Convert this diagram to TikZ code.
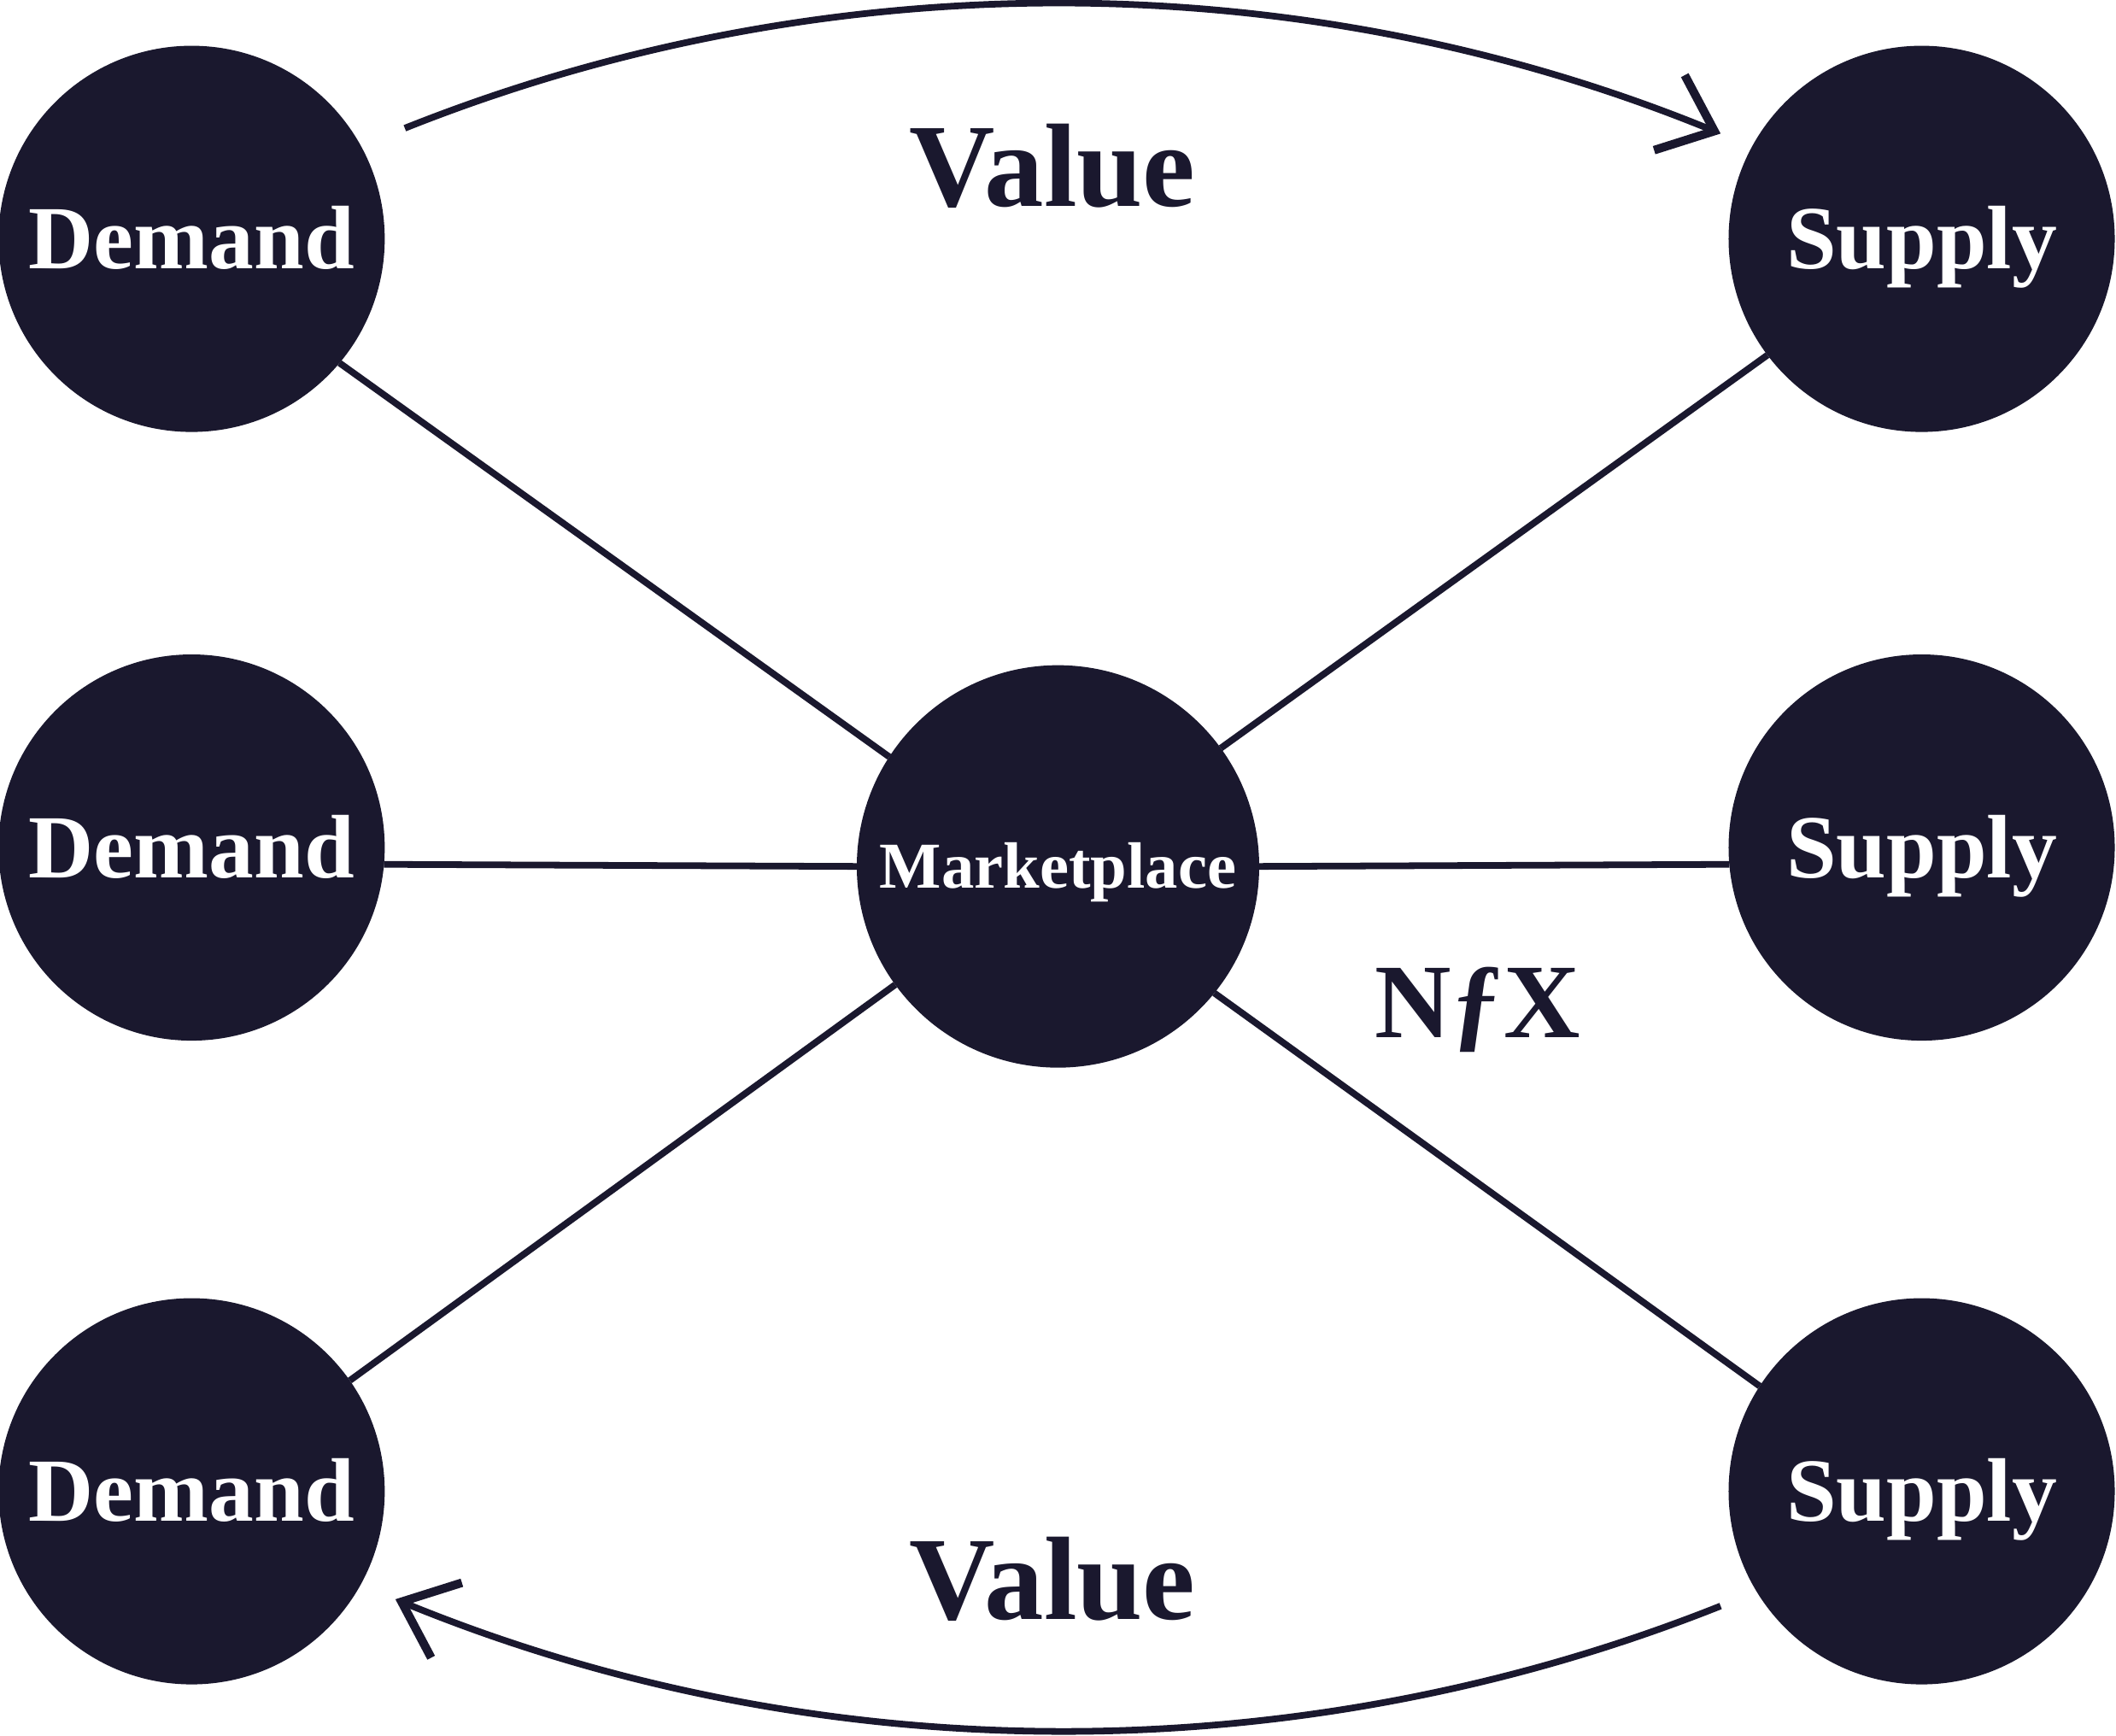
\documentclass[tikz,border=0pt]{standalone}
\usepackage{fontspec}
\setmainfont{Liberation Serif}
\usetikzlibrary{arrows.meta}
\definecolor{ink}{HTML}{1A182E}

\def\ux{0.01cm}
\def\uy{-0.01cm}

\begin{document}
\begin{tikzpicture}[x=\ux,y=\uy, line width=1.4pt,
    party/.style={circle, fill=ink, minimum size=2.86cm, inner sep=0pt, outer sep=0pt,
      text=white, font=\fontsize{19}{23}\selectfont\bfseries, text height=12.6pt, text depth=0pt},
    hub/.style={party, minimum size=2.98cm,
      font=\fontsize{13.8}{16}\selectfont\bfseries, text height=9.1pt},
    link/.style={draw=ink},
    flow/.style={draw=ink, -{Straight Barb[length=0.36cm,width=0.6cm,line width=1.8pt]},
      bend left=22, looseness=0.88},
    tag/.style={text=ink, anchor=base, inner sep=0pt}]
		\useasboundingbox (0,0) rectangle (1568,1286);

		\foreach \i/\y in {1/177,2/628,3/1105}{
			\node[party] (dem\i) at (142,\y) {Demand};
			\node[party] (sup\i) at (1424,\y) {Supply};
		}
		\node[hub] (mkt) at (784,642) {Marketplace};

		\draw[link] (dem1.-40.6) -- (mkt.147.9);
		\draw[link] (dem2.-5.6) -- (mkt.180);
		\draw[link] (dem3.35.6) -- (mkt.216.5);
		\draw[link] (sup1.217.4) -- (mkt.36.3);
		\draw[link] (sup2.185.6) -- (mkt.0);
		\draw[link] (sup3.147.1) -- (mkt.-39.8);

		% value flows
		\coordinate (vtopL) at (300,95);
		\coordinate (vtopR) at (1275,99);
		\coordinate (vbotR) at (1275,1190);
		\coordinate (vbotL) at (293,1185);
		\draw[flow] (vtopL) to (vtopR);
		\draw[flow] (vbotR) to (vbotL);

		\node[tag, font=\fontsize{25}{30}\selectfont\bfseries] (valtop) at (780,153) {Value};
		\node[tag, font=\fontsize{25}{30}\selectfont\bfseries] (valbot) at (780,1200) {Value};
		\node[tag, font=\fontsize{22.3}{27}\selectfont\bfseries] (brand) at (1095,769) {NƒX};
\end{tikzpicture}
\end{document}
